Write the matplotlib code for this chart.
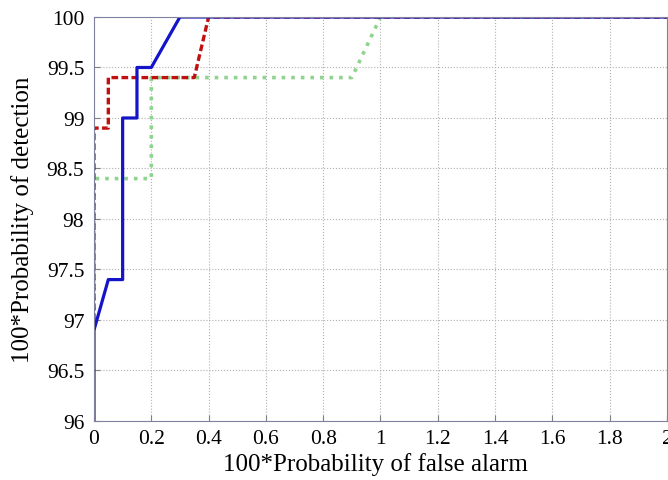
import matplotlib
matplotlib.use('Agg')
import matplotlib.pyplot as plt

# curve points (x = 100*Pfa, y = 100*Pd)
blue_x = [0, 0, 0.05, 0.1, 0.1, 0.15, 0.15, 0.2, 0.3, 2]
blue_y = [96, 96.9, 97.4, 97.4, 99.0, 99.0, 99.5, 99.5, 100, 100]

red_x = [0, 0, 0.05, 0.05, 0.35, 0.4, 2]
red_y = [96.9, 98.9, 98.9, 99.4, 99.4, 100, 100]

green_x = [0, 0, 0.2, 0.2, 0.9, 1.0, 2]
green_y = [96.9, 98.4, 98.4, 99.4, 99.4, 100, 100]

xticks = [0, 0.2, 0.4, 0.6, 0.8, 1, 1.2, 1.4, 1.6, 1.8, 2]
xlabels = ['0', '0.2', '0.4', '0.6', '0.8', '1', '1.2', '1.4', '1.6', '1.8', '2']
yticks = [96, 96.5, 97, 97.5, 98, 98.5, 99, 99.5, 100]
ylabels = ['96', '96.5', '97', '97.5', '98', '98.5', '99', '99.5', '100']

plt.rcParams['font.family'] = ['Liberation Serif', 'DejaVu Serif']

fig = plt.figure(figsize=(6.68, 4.81), dpi=100)
ax = fig.add_axes([0.1407, 0.1227, 0.8578, 0.8399])

ax.plot(green_x, green_y, color='#8fd38f', linestyle=':', linewidth=2.6)
ax.plot(red_x, red_y, color='#c01010', linestyle='--', linewidth=2.4, dashes=(2, 1))
ax.plot(blue_x, blue_y, color='#1414c8', linestyle='-', linewidth=2.3)

ax.set_xlim(0, 2)
ax.set_ylim(96, 100)
ax.set_xticks(xticks)
ax.set_xticklabels(xlabels)
ax.set_yticks(yticks)
ax.set_yticklabels(ylabels)
ax.tick_params(direction='in', labelsize=15.5, length=4, color='#808080')
ax.tick_params(axis='y', pad=7)
ax.tick_params(axis='x', pad=6)
ax.grid(True, linestyle=':', color='#b0b0b0', linewidth=0.8)
for s in ax.spines.values():
    s.set_color('#8080a0')

ax.set_xlabel('100*Probability of false alarm', fontsize=18, va='center')
ax.set_ylabel('100*Probability of detection', fontsize=18, va='center')
ax.xaxis.set_label_coords(0.492, -0.105)
ax.yaxis.set_label_coords(-0.125, 0.5)

fig.savefig('out.png', dpi=100)
